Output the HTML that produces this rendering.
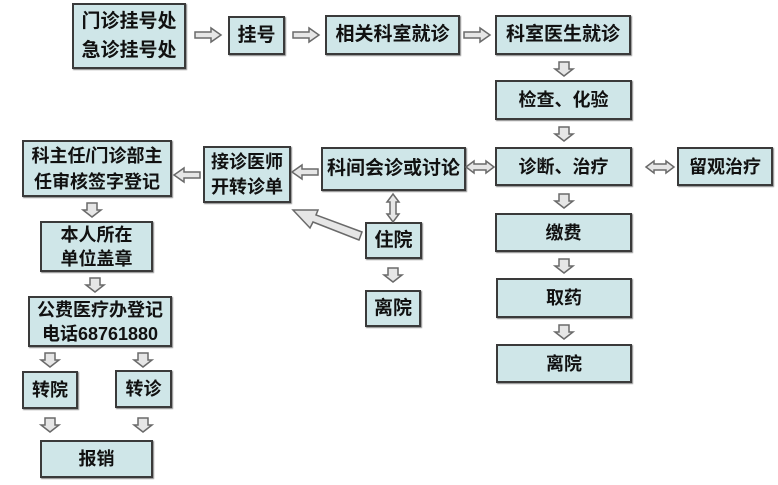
<!DOCTYPE html>
<html><head><meta charset="utf-8"><style>
html,body{margin:0;padding:0;background:#fff;width:778px;height:485px;overflow:hidden;position:relative}
.b{position:absolute;box-sizing:border-box;background:#cfe6e8;border:2px solid #3a3a3a;display:flex;align-items:center;justify-content:center;text-align:center;font-family:"Liberation Sans","Noto Sans CJK SC",sans-serif;font-weight:bold;color:#111;font-size:18px;line-height:24px;box-shadow:1px 1px 1px #888}
svg{position:absolute;left:0;top:0}
</style></head><body>
<div class="b" style="left:72px;top:3px;width:114px;height:66px;font-size:19px;line-height:29px">门诊挂号处<br>急诊挂号处</div>
<div class="b" style="left:228px;top:16px;width:57px;height:39px;font-size:19px">挂号</div>
<div class="b" style="left:325px;top:15px;width:135px;height:40px;font-size:19px">相关科室就诊</div>
<div class="b" style="left:495px;top:15px;width:136px;height:40px;font-size:19px">科室医生就诊</div>
<div class="b" style="left:495px;top:80px;width:137px;height:40px">检查、化验</div>
<div class="b" style="left:495px;top:147px;width:137px;height:39px">诊断、治疗</div>
<div class="b" style="left:677px;top:147px;width:96px;height:39px">留观治疗</div>
<div class="b" style="left:321px;top:147px;width:145px;height:44px;font-size:19px">科间会诊或讨论</div>
<div class="b" style="left:203px;top:146px;width:88px;height:57px;font-size:18px;line-height:25px">接诊医师<br>开转诊单</div>
<div class="b" style="left:22px;top:140px;width:150px;height:57px;font-size:18px;line-height:26px">科主任/门诊部主<br>任审核签字登记</div>
<div class="b" style="left:40px;top:221px;width:113px;height:51px;font-size:18px;line-height:24px">本人所在<br>单位盖章</div>
<div class="b" style="left:28px;top:296px;width:144px;height:51px;font-size:18px;line-height:24px">公费医疗办登记<br>电话68761880</div>
<div class="b" style="left:22px;top:371px;width:56px;height:38px">转院</div>
<div class="b" style="left:115px;top:370px;width:57px;height:38px">转诊</div>
<div class="b" style="left:40px;top:440px;width:113px;height:38px">报销</div>
<div class="b" style="left:365px;top:222px;width:57px;height:37px;font-size:19px">住院</div>
<div class="b" style="left:365px;top:290px;width:56px;height:37px;font-size:19px">离院</div>
<div class="b" style="left:495px;top:213px;width:137px;height:39px">缴费</div>
<div class="b" style="left:496px;top:278px;width:136px;height:40px">取药</div>
<div class="b" style="left:496px;top:344px;width:136px;height:39px">离院</div>
<svg width="778" height="485" viewBox="0 0 778 485">
<defs>
<g id="ar"><polygon points="0,-3 16,-3 16,-7 26,0 16,7 16,3 0,3" fill="#e6e6e6" stroke="#6a6a6a" stroke-width="1.5"/></g>
<g id="dw"><polygon points="-5,0 5,0 5,7 9,7 0,14 -9,7 -5,7" fill="#e6e6e6" stroke="#6a6a6a" stroke-width="1.5"/></g>
<g id="lr"><polygon points="0,0 8,-6 8,-3 20,-3 20,-6 28,0 20,6 20,3 8,3 8,6" fill="#e6e6e6" stroke="#6a6a6a" stroke-width="1.5"/></g>
</defs>
<use href="#ar" x="195" y="35"/>
<use href="#ar" x="293" y="35"/>
<use href="#ar" x="464" y="35"/>
<use href="#dw" x="564" y="62"/>
<use href="#dw" x="564" y="127"/>
<use href="#dw" x="564" y="194"/>
<use href="#dw" x="564" y="259"/>
<use href="#dw" x="564" y="325"/>
<use href="#lr" x="466" y="167"/>
<use href="#lr" x="646" y="167"/>
<g transform="translate(318,172) scale(-1,1)"><use href="#ar" x="0" y="0"/></g>
<g transform="translate(200,175) scale(-1,1)"><use href="#ar" x="0" y="0"/></g>
<g transform="translate(393,194) rotate(90)"><use href="#lr" x="0" y="0"/></g>
<use href="#dw" x="393" y="268"/>
<use href="#dw" x="92" y="203"/>
<use href="#dw" x="95" y="278"/>
<use href="#dw" x="50" y="353"/>
<use href="#dw" x="143" y="353"/>
<use href="#dw" x="50" y="418"/>
<use href="#dw" x="143" y="418"/>
<polygon points="362,232 316,215 318,210 293,210 310,228 313,222 359,240" fill="#e6e6e6" stroke="#6a6a6a" stroke-width="1.5"/>
</svg>
</body></html>
